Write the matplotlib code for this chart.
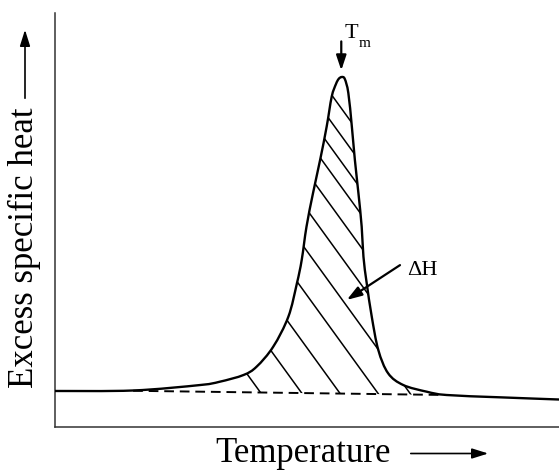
import numpy as np
import matplotlib
matplotlib.use("Agg")
import matplotlib.pyplot as plt
from matplotlib.patches import PathPatch, FancyArrowPatch
from matplotlib.path import Path

plt.rcParams['font.family'] = ['Liberation Serif', 'DejaVu Serif']

# ---- data (arbitrary units) ----
temp = [0.0, 15.5, 28.8, 32.7, 37.4, 40.0, 43.3, 46.3, 48.0, 48.95, 49.9, 51.2,
        52.6, 53.9, 54.9, 55.75, 56.3, 56.9, 57.5, 58.2, 58.9, 59.5, 60.2,
        60.85, 61.2, 61.85, 62.85, 64.15, 66.1, 69.1, 73.75, 77.7, 88.3, 100.0]
heat = [8.70, 8.82, 10.14, 10.94, 12.56, 14.57, 19.40, 26.64, 34.71, 40.34, 48.38, 56.52,
        64.49, 72.54, 79.78, 82.85, 84.1, 84.54, 84.06, 80.68, 72.54, 64.49, 56.52,
        48.38, 41.14, 34.71, 26.64, 18.60, 12.97, 10.14, 8.53, 7.73, 7.17, 6.64]
baseline_t = [15.5, 77.7]
baseline_h = [8.75, 7.73]
hatch_at = [40.7, 48.8, 56.35, 63.9, 70.25, 76.2, 81.55, 86.3, 89.9, 93.65, 97.6]

fig = plt.figure(figsize=(5.59, 4.70), dpi=100)
ax = fig.add_axes([55/559, 43/470, 504/559, 414/470])
ax.set_xlim(0, 100)
ax.set_ylim(0, 100)
for s in ['top', 'right']:
    ax.spines[s].set_visible(False)
for s in ['left', 'bottom']:
    ax.spines[s].set_color('#333333')
    ax.spines[s].set_linewidth(1.1)
ax.set_xticks([])
ax.set_yticks([])

pts = np.column_stack([temp, heat])


def smooth_segments(p, i0, i1):
    """Catmull-Rom through p[i0..i1] expressed as cubic Bezier path pieces."""
    verts, codes = [tuple(p[i0])], [Path.MOVETO]
    n = len(p)
    for i in range(i0, i1):
        pm = p[max(i - 1, 0)]
        pa = p[i]
        pb = p[i + 1]
        pn = p[min(i + 2, n - 1)]
        c1 = pa + (pb - pm) / 6.0
        c2 = pb - (pn - pa) / 6.0
        verts += [tuple(c1), tuple(c2), tuple(pb)]
        codes += [Path.CURVE4] * 3
    return verts, codes


v, c = smooth_segments(pts, 0, len(pts) - 1)
ax.add_patch(PathPatch(Path(v, c), facecolor='none', edgecolor='black', lw=1.7,
                       capstyle='round', joinstyle='round', zorder=3))
ax.plot(baseline_t, baseline_h, color='black', lw=1.4, dashes=(5, 3), zorder=3)

# hatched region between curve and baseline
i0 = temp.index(baseline_t[0])
i1 = temp.index(baseline_t[1])
v2, c2 = smooth_segments(pts, i0, i1)
v2 += [(baseline_t[1], baseline_h[1]), (baseline_t[0], baseline_h[0]), (0, 0)]
c2 += [Path.LINETO, Path.LINETO, Path.CLOSEPOLY]
clip = PathPatch(Path(v2, c2), facecolor='none', edgecolor='none',
                 transform=ax.transData)
ax.add_patch(clip)
slope = -1.68
for cc in hatch_at:
    xs = np.array([cc - 70, cc + 10])
    ys = 8.45 + slope * (xs - cc)
    ln, = ax.plot(xs, ys, color='black', lw=1.1, zorder=2)
    ln.set_clip_path(clip)

# T_m arrow and label
ip = int(np.argmax(heat))
tm, hm = temp[ip], heat[ip]
ax.annotate('', xy=(tm - 0.1, hm + 1.6), xytext=(tm - 0.1, hm + 8.6),
            arrowprops=dict(arrowstyle='-|>,head_length=0.9,head_width=0.3',
                            lw=1.6, color='black', shrinkA=0, shrinkB=0),
            annotation_clip=False)
ax.text(tm + 0.65, hm + 9.4, 'T', fontsize=16, ha='left', va='baseline')
ax.text(tm + 3.25, hm + 7.25, 'm', fontsize=11, ha='left', va='baseline')

# Delta H arrow and label
ax.annotate('', xy=(57.9, 30.7), xytext=(68.45, 39.1),
            arrowprops=dict(arrowstyle='-|>,head_length=0.9,head_width=0.3',
                            lw=1.6, color='black', shrinkA=0, shrinkB=0))
ax.text(69.9, 36.7, 'ΔH', fontsize=16, ha='left', va='baseline')

# axis labels with arrows
fig.text(215/559, 1 - 462.5/470, 'Temperature', fontsize=25, ha='left', va='baseline')
fig.add_artist(FancyArrowPatch(
    (408/559, 1 - 453.5/470), (491/559, 1 - 453.5/470), transform=fig.transFigure,
    arrowstyle='-|>,head_length=0.7,head_width=0.22', lw=1.2, color='black',
    mutation_scale=14))
fig.text(33/559, 1 - 388/470, 'Excess specific heat', fontsize=25, rotation=90,
         rotation_mode='anchor', ha='left', va='baseline')
fig.add_artist(FancyArrowPatch(
    (25/559, 1 - 101/470), (25/559, 1 - 27/470), transform=fig.transFigure,
    arrowstyle='-|>,head_length=0.7,head_width=0.22', lw=1.2, color='black',
    mutation_scale=14))

fig.savefig('out.png', dpi=100)
